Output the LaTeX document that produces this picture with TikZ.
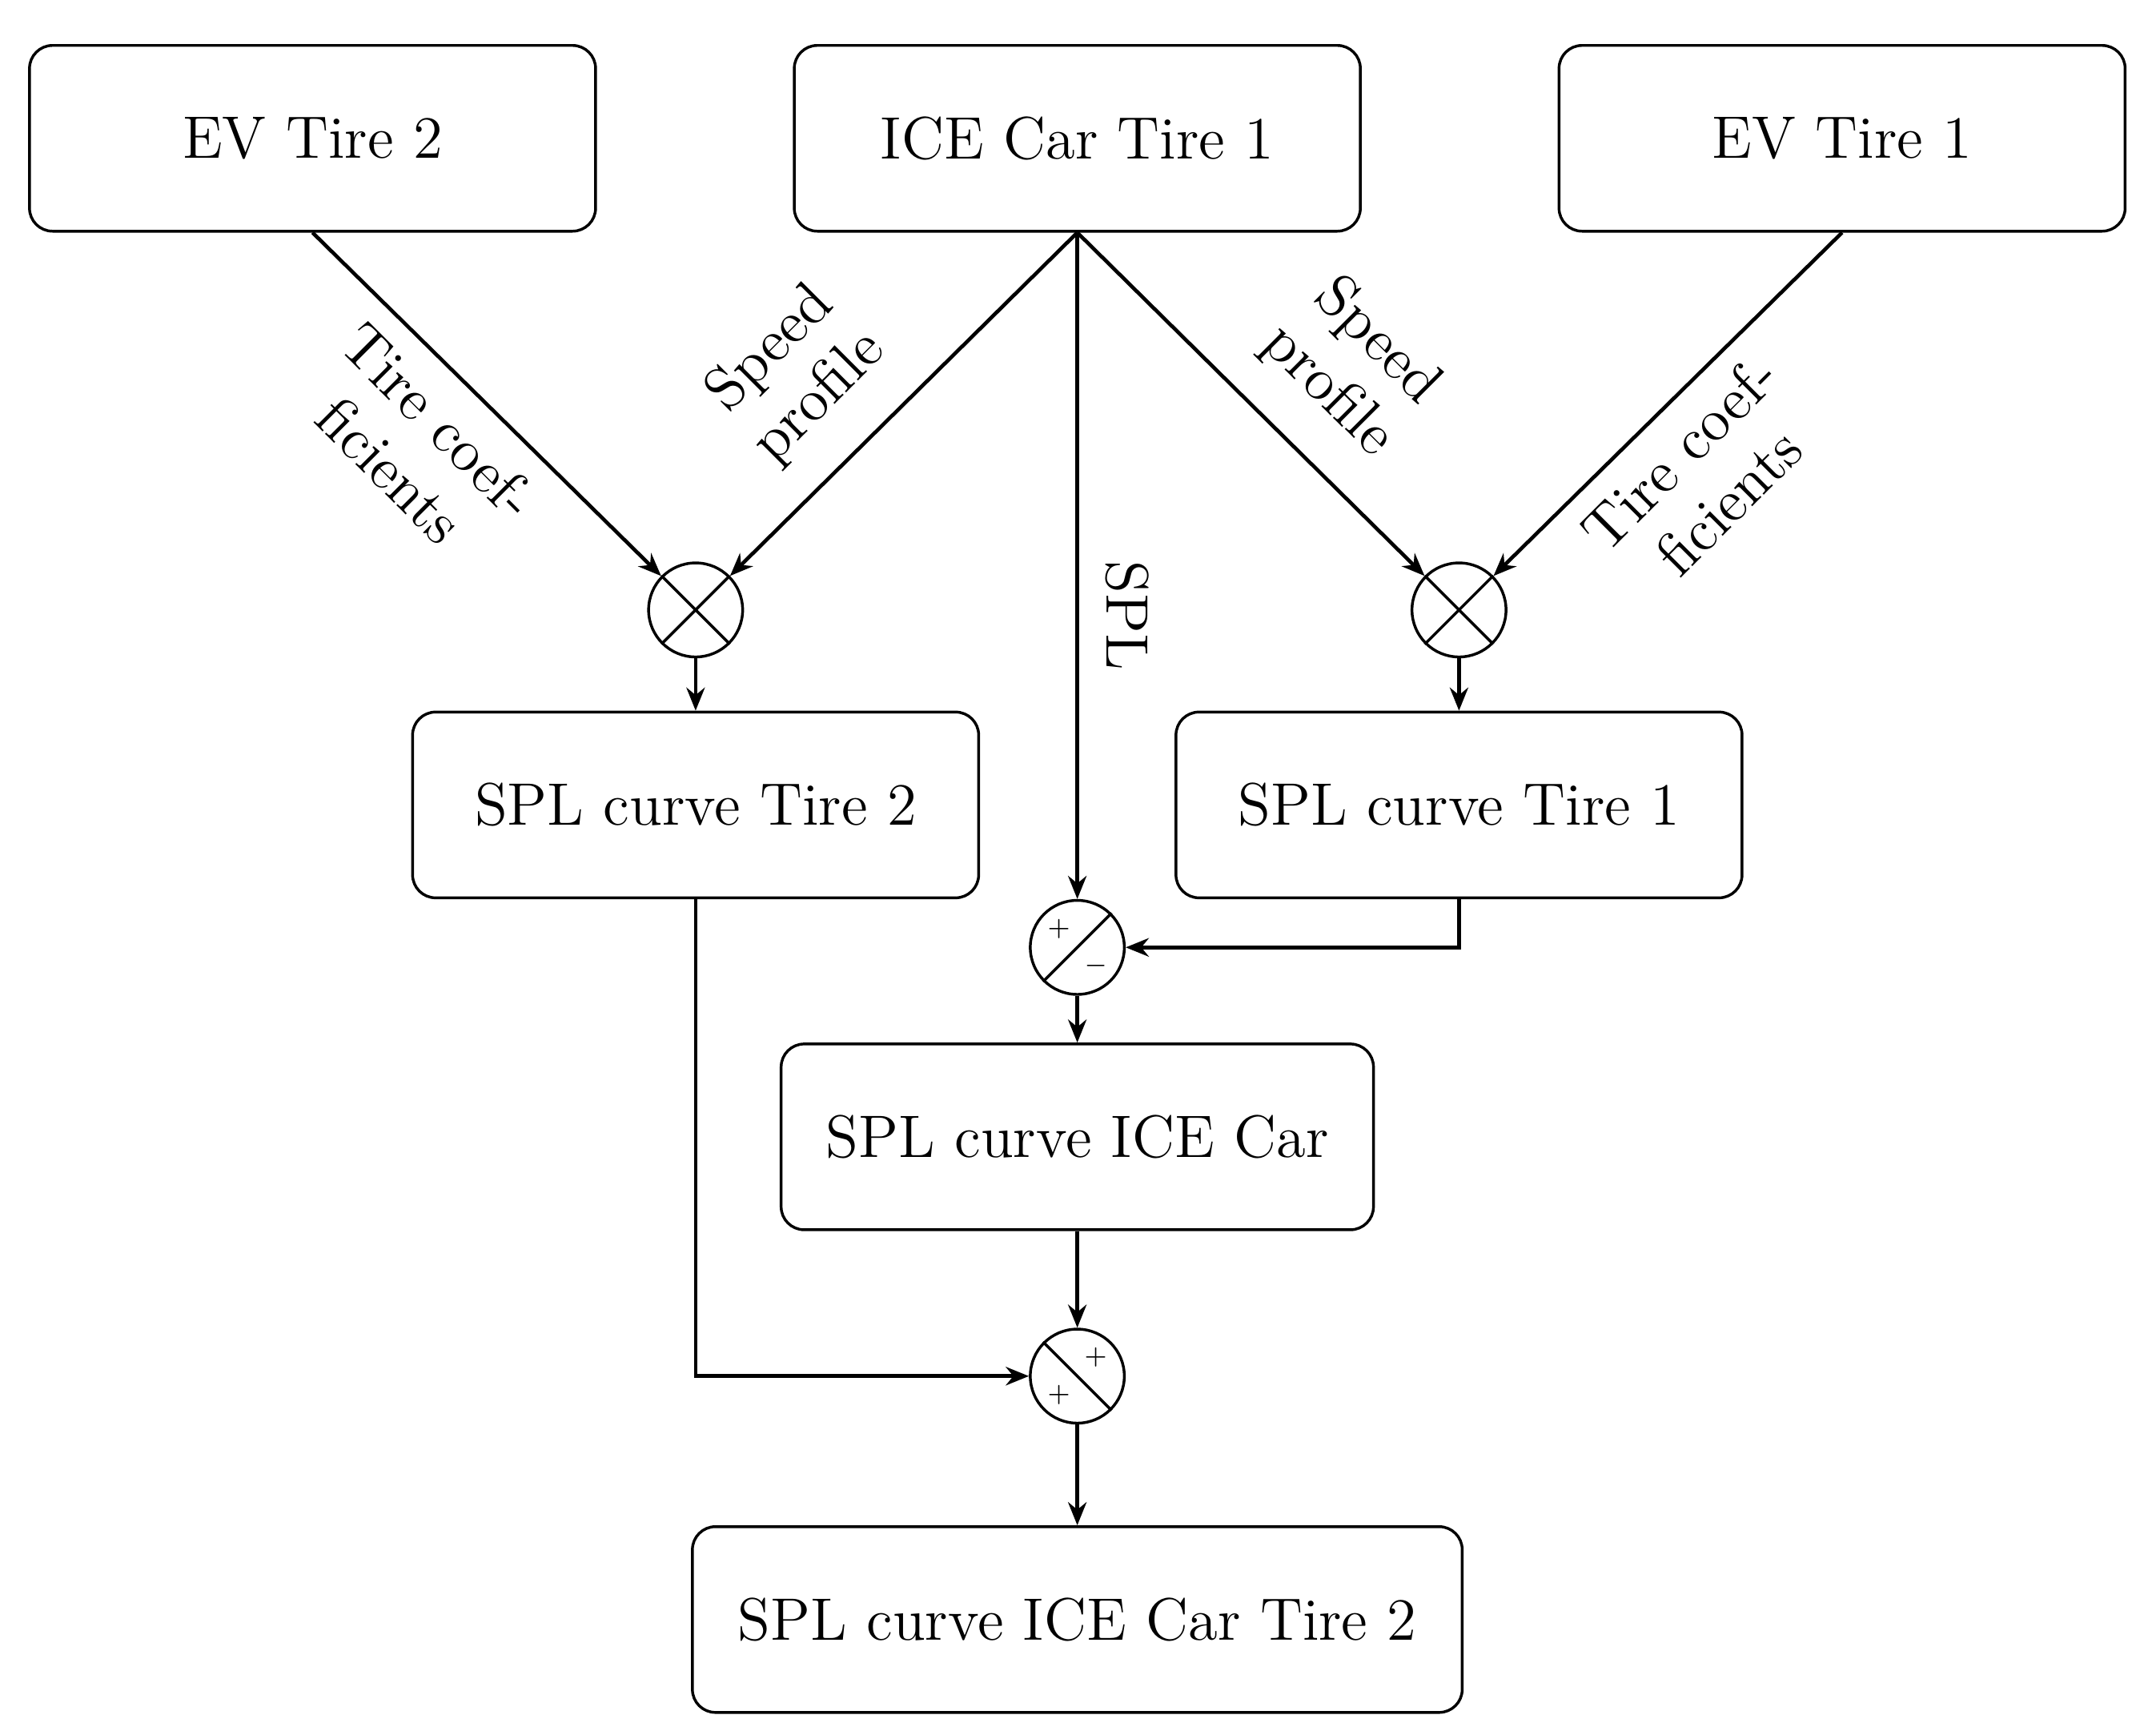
\documentclass[tikz,border=0pt]{standalone}
\usetikzlibrary{arrows.meta,positioning}
\begin{document}
\begin{tikzpicture}[x=0.3pt,y=-0.3pt,
 box/.style={draw,line width=0.6pt,rounded corners=5pt,minimum height=40.3pt,font=\fontsize{13}{15}\selectfont},
 op/.style={draw,circle,line width=0.6pt,minimum size=20.4pt,inner sep=0pt},
 arr/.style={line width=0.8pt,-{Stealth[length=5pt,width=4pt]}},
 lab/.style={font=\fontsize{13}{15}\selectfont,align=center,inner sep=0pt}]
\useasboundingbox (0,0) rectangle (1559,1254);
\node[box,minimum width=122.8pt] (ev2) at (226,100) {EV Tire 2};
\node[box,minimum width=122.8pt] (ice) at (779,100) {ICE Car Tire 1};
\node[box,minimum width=122.8pt] (ev1) at (1332,100) {EV Tire 1};
\node[op] (m2) at (503,441) {};
\node[op] (m1) at (1055,441) {};
\foreach \m in {m1,m2}{
 \draw[line width=0.6pt] (\m.north west) -- (\m.south east) (\m.north east) -- (\m.south west);}
\node[box,minimum width=122.8pt] (s2) at (503,582) {SPL curve Tire 2};
\node[box,minimum width=122.8pt] (s1) at (1055,582) {SPL curve Tire 1};
\node[op] (a1) at (779,685) {};
\draw[line width=0.6pt] (a1.south west) -- (a1.north east);
\node[font=\tiny] at ([xshift=-4pt,yshift=4pt]a1.center) {$+$};
\node[font=\tiny] at ([xshift=4pt,yshift=-4pt]a1.center) {$-$};
\node[box,minimum width=128.5pt] (ice2) at (779,822) {SPL curve ICE Car};
\node[op] (a2) at (779,995) {};
\draw[line width=0.6pt] (a2.north west) -- (a2.south east);
\node[font=\tiny] at ([xshift=4pt,yshift=4pt]a2.center) {$+$};
\node[font=\tiny] at ([xshift=-4pt,yshift=-4pt]a2.center) {$+$};
\node[box,minimum width=167pt] (fin) at (779,1171) {SPL curve ICE Car Tire 2};
\draw[arr] (ev2.south) -- (m2);
\draw[arr] (ice.south) -- (m2);
\draw[arr] (ice.south) -- (m1);
\draw[arr] (ev1.south) -- (m1);
\draw[arr] (ice.south) -- (a1);
\draw[arr] (m2) -- (s2);
\draw[arr] (m1) -- (s1);
\draw[arr] (s1.south) |- (a1);
\draw[arr] (a1) -- (ice2);
\draw[arr] (ice2) -- (a2);
\draw[arr] (s2.south) |- (a2);
\draw[arr] (a2) -- (fin);
\node[lab,rotate=-45] at (300,322) {Tire coef-\\ficients};
\node[lab,rotate=45] at (575,270) {Speed\\profile};
\node[lab,rotate=-45] at (978,265) {Speed\\profile};
\node[lab,rotate=45] at (1232,345) {Tire coef-\\ficients};
\node[lab,rotate=-90] at (815,445) {SPL};
\end{tikzpicture}
\end{document}
